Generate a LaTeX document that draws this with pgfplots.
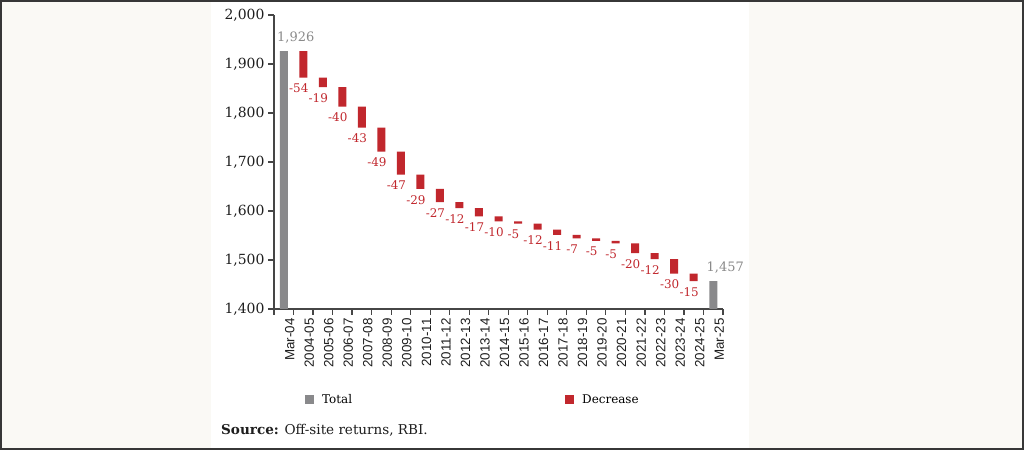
\documentclass[border=0pt]{standalone}
\usepackage{fontspec}
\setmainfont{DejaVu Serif}
\newfontfamily\sanslab{Liberation Sans}
\usepackage{pgfplots}
\pgfplotsset{compat=1.18}
\usepackage{pgfplotstable}

\definecolor{decred}{RGB}{193,39,45}
\definecolor{totgray}{RGB}{137,137,139}
\definecolor{labgray}{RGB}{138,138,138}
\definecolor{axcol}{RGB}{70,70,70}
\definecolor{txtcol}{RGB}{30,30,30}
\definecolor{bgcol}{RGB}{250,249,245}
\definecolor{framecol}{RGB}{55,55,55}

% base = level after the year's decrease (invisible part of the stack)
\pgfplotstableread{
x  cat      base  tot   dec  tlab   dlab
0  Mar-04   0     1926  0    1,926  {}
1  2004-05  1872  0     54   {}     -54
2  2005-06  1853  0     19   {}     -19
3  2006-07  1813  0     40   {}     -40
4  2007-08  1770  0     43   {}     -43
5  2008-09  1721  0     49   {}     -49
6  2009-10  1674  0     47   {}     -47
7  2010-11  1645  0     29   {}     -29
8  2011-12  1618  0     27   {}     -27
9  2012-13  1606  0     12   {}     -12
10 2013-14  1589  0     17   {}     -17
11 2014-15  1579  0     10   {}     -10
12 2015-16  1574  0     5    {}     -5
13 2016-17  1562  0     12   {}     -12
14 2017-18  1551  0     11   {}     -11
15 2018-19  1544  0     7    {}     -7
16 2019-20  1539  0     5    {}     -5
17 2020-21  1534  0     5    {}     -5
18 2021-22  1514  0     20   {}     -20
19 2022-23  1502  0     12   {}     -12
20 2023-24  1472  0     30   {}     -30
21 2024-25  1457  0     15   {}     -15
22 Mar-25   0     1457  0    1,457  {}
}\waterfall

\begin{document}
\begin{tikzpicture}[x=1bp,y=1bp]
\fill[bgcol] (0,0) rectangle (1024,450);
\fill[white] (211,2) rectangle (749,448);
\draw[framecol, line width=1.6bp] (0.8,0.8) rectangle (1023.2,449.2);

\begin{axis}[
    at={(274bp,141bp)}, anchor=south west,
    scale only axis, width=449bp, height=294bp,
    ybar stacked, bar width=8bp,
    xmin=-0.5, xmax=22.5, ymin=1400, ymax=2000,
    axis x line*=bottom, axis y line*=left,
    axis line style={axcol, line width=1.2bp},
    tick align=outside,
    major tick length=6bp, minor tick length=6bp,
    tick style={axcol, line width=1.2bp},
    ytick={1400,1500,...,2000},
    /pgf/number format/1000 sep={,},
    /pgf/number format/assume math mode=true,
    yticklabel style={font=\fontsize{14}{14}\selectfont, text=txtcol},
    xtick={0,...,22},
    xticklabels from table={\waterfall}{cat},
    minor xtick={-0.5,0.5,...,22.5},
    major x tick style={draw=none},
    xticklabel style={font=\sanslab\fontsize{13.4}{13.4}\selectfont, text=txtcol,
        rotate=90, anchor=east, yshift=-6bp},
    legend image code/.code={\fill[#1] (0bp,-4.5bp) rectangle (9bp,4.5bp);},
    legend columns=2,
    legend style={at={(axis description cs:0.069,-0.3095)}, anchor=west,
        draw=none, fill=none, inner sep=0pt,
        font=\fontsize{12}{12}\selectfont, nodes={inner sep=0pt},
        /tikz/every odd column/.append style={column sep=8bp},
        /tikz/every even column/.append style={column sep=213bp}},
]
\addlegendimage{fill=totgray, draw=none}
\addlegendentry{Total}
\addlegendimage{fill=decred, draw=none}
\addlegendentry{Decrease}

\addplot[fill=none, draw=none] table[x=x, y=base]{\waterfall};
% stacked nodes sit mid-segment: move them to the bar ends
\addplot[fill=totgray, draw=none,
    point meta=explicit symbolic,
    visualization depends on={\thisrow{tot} \as \tt},
    nodes near coords,
    nodes near coords style={shift={(axis direction cs:0,0.5*\tt)}, anchor=south,
        xshift=12bp, yshift=4bp,
        text=labgray, font=\fontsize{13}{13}\selectfont}]
    table[x=x, y=tot, meta=tlab]{\waterfall};
\addplot[fill=decred, draw=none,
    point meta=explicit symbolic,
    visualization depends on={\thisrow{dec} \as \dd},
    nodes near coords,
    nodes near coords style={shift={(axis direction cs:0,-0.5*\dd)}, anchor=north,
        xshift=-4.5bp, yshift=-3bp, inner sep=3bp,
        text=decred, font=\fontsize{12}{12}\selectfont}]
    table[x=x, y=dec, meta=dlab]{\waterfall};
\end{axis}

\node[anchor=base west, inner sep=0pt, font=\fontsize{13.6}{13.6}\selectfont, text=txtcol]
    at (221,15) {\textbf{Source:} Off-site returns, RBI.};
\end{tikzpicture}
\end{document}
